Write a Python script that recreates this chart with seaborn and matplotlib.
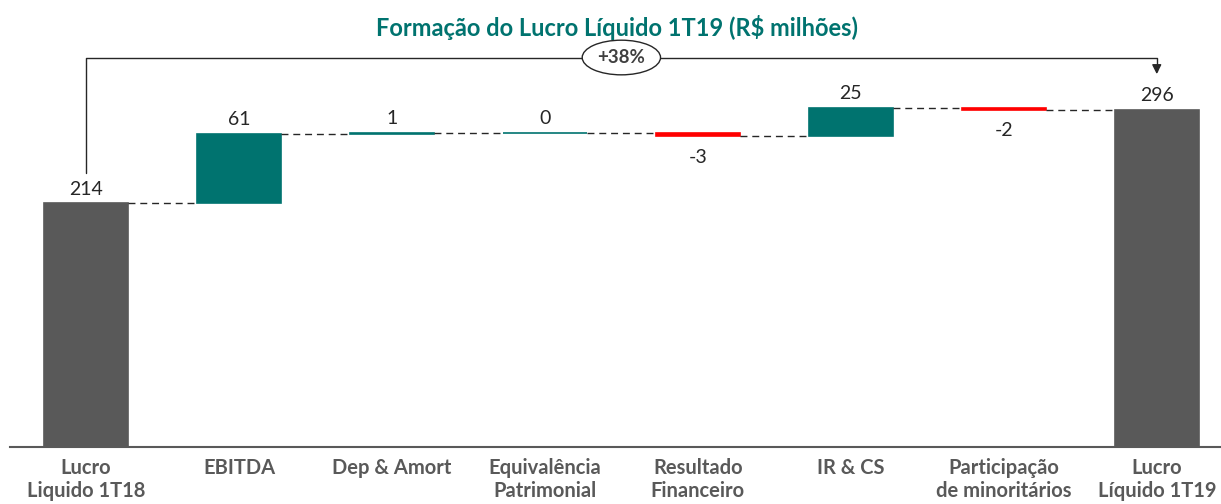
import matplotlib.pyplot as plt
import seaborn as sns
import pandas as pd

categories = ["Lucro\nLiquido 1T18", "EBITDA", "Dep & Amort",
              "Equivalência\nPatrimonial", "Resultado\nFinanceiro", "IR & CS",
              "Participação\nde minoritários", "Lucro\nLíquido 1T19"]
values = [214, 61, 1, 0, -3, 25, -2, 296]
kinds = ["total", "delta", "delta", "delta", "delta", "delta", "delta", "total"]
value_labels = ["214", "61", "1", "0", "-3", "25", "-2", "296"]
change_label = "+38%"
title = "Formação do Lucro Líquido 1T19 (R$ milhões)"

GRAY = "#595959"
TEAL = "#00736F"
RED = "#FF0000"

sns.set_theme(style="white")
plt.rcParams["font.family"] = ["Lato", "DejaVu Sans"]

# waterfall geometry
bottoms, heights, colors, levels = [], [], [], []
running = 0
for v, k in zip(values, kinds):
    if k == "total":
        bottoms.append(0)
        heights.append(v)
        colors.append(GRAY)
        running = v
    else:
        bottoms.append(min(running, running + v))
        heights.append(abs(v))
        colors.append(TEAL if v >= 0 else RED)
        running = running + v
    levels.append(running)

df = pd.DataFrame({"categoria": categories, "altura": heights})

fig = plt.figure(figsize=(12.21, 5.04), dpi=100)
ax = fig.add_axes([9.5 / 1221, 57 / 504, 1 - 9.5 / 1221, 447 / 504])

sns.barplot(data=df, x="categoria", y="altura", hue="categoria",
            palette=colors, legend=False, width=0.55, saturation=1, ax=ax)

for p, b, c in zip(ax.patches, bottoms, colors):
    p.set_y(b)
    p.set_edgecolor(c)
    p.set_linewidth(1.2)

ax.set_xlim(-0.5, 7.42)
ax.set_ylim(0, 392.5)

# connectors
half = 0.55 / 2
for i in range(len(values) - 1):
    ax.plot([i + half, i + 1 - half], [levels[i], levels[i]],
            color="#262626", lw=1, ls=(0, (5, 3.5)), zorder=1)

# value labels
for i, (v, k) in enumerate(zip(values, kinds)):
    top = bottoms[i] + heights[i]
    if k == "total" or v >= 0:
        ax.annotate(value_labels[i], (i, top), xytext=(0, 4), textcoords="offset points",
                    ha="center", va="bottom", fontsize=14, color="#262626")
    else:
        ax.annotate(value_labels[i], (i, bottoms[i]), xytext=(0, -9), textcoords="offset points",
                    ha="center", va="top", fontsize=14, color="#262626")

# bracket with growth
y_start = values[0] + 27
y_top = max(levels) + 44
y_end = levels[-1] + 29
last = len(values) - 1
ax.plot([0, 0, last, last], [y_start, y_top, y_top, y_end + 5],
        color="#262626", lw=1, clip_on=False)
ax.annotate("", xy=(last, y_end), xytext=(last, y_end + 8),
            arrowprops=dict(arrowstyle="-|>", color="#262626", lw=1,
                            mutation_scale=14), annotation_clip=False)
ax.text(last / 2, y_top, change_label, ha="center", va="center", fontsize=13.5,
        fontweight="bold", color="#404040",
        bbox=dict(boxstyle="ellipse,pad=0.2", fc="white", ec="#262626", lw=1))

fig.text(0.505, 0.946, title, ha="center", va="center", fontsize=17,
         fontweight="bold", color=TEAL)

ax.set_xlabel("")
ax.set_ylabel("")
ax.set_yticks([])
ax.tick_params(axis="x", length=0, pad=8)
for t in ax.get_xticklabels():
    t.set_fontweight("bold")
    t.set_color(GRAY)
    t.set_fontsize(14.5)
    t.set_linespacing(1.2)

sns.despine(ax=ax, left=True)
ax.spines["bottom"].set_color(GRAY)
ax.spines["bottom"].set_linewidth(1.5)

fig.savefig("out.png", dpi=100)
